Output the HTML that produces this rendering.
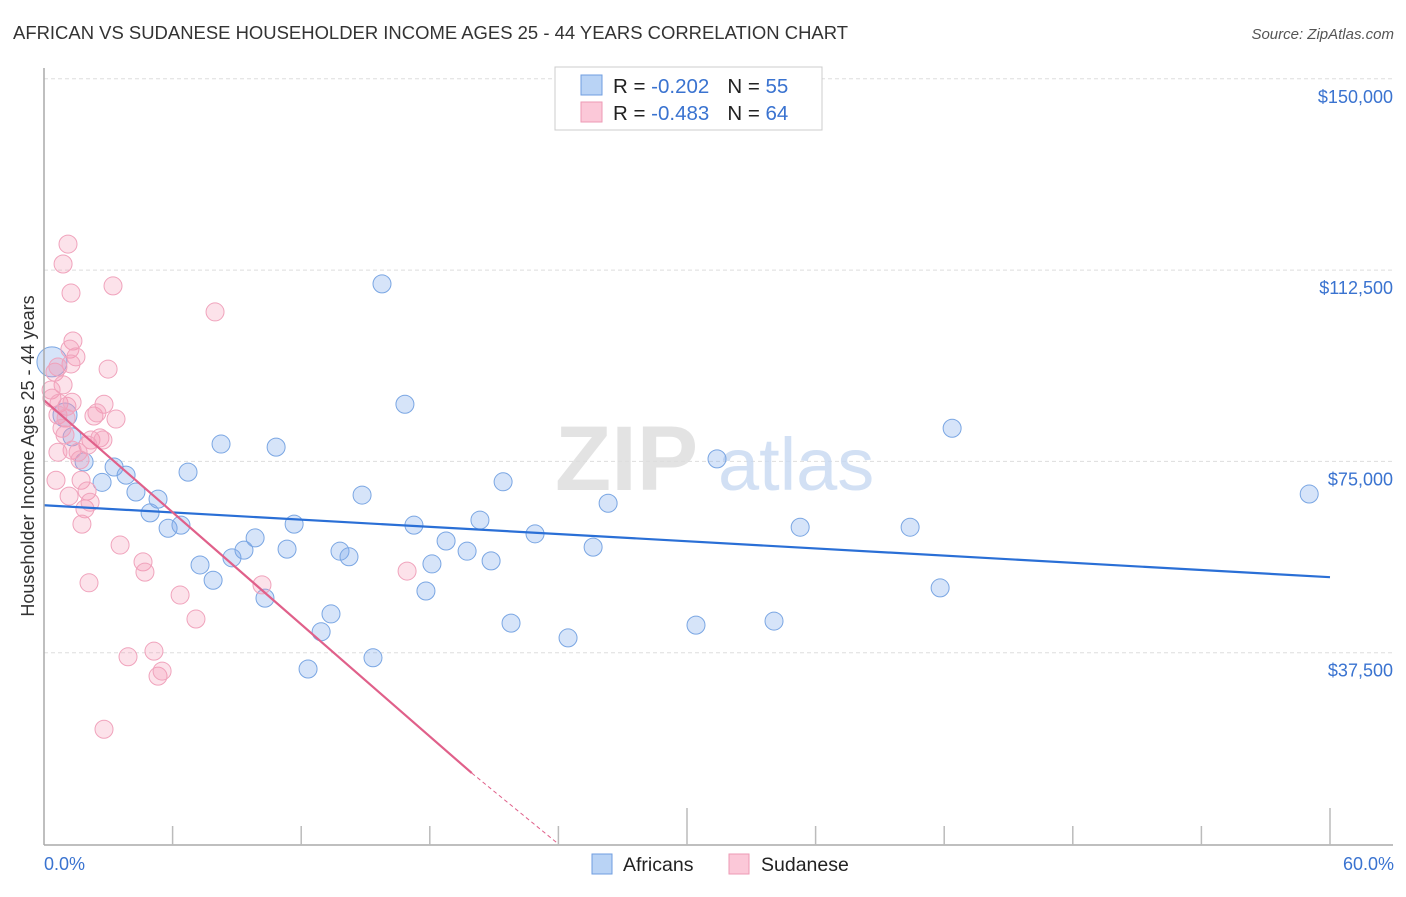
<!DOCTYPE html>
<html><head><meta charset="utf-8"><style>
body{margin:0;background:#fff;font-family:"Liberation Sans",sans-serif}
svg text{font-family:"Liberation Sans",sans-serif}
</style></head><body>
<svg id="chart" width="1406" height="892" viewBox="0 0 1406 892" xmlns="http://www.w3.org/2000/svg">
<text x="13" y="39" font-size="18" fill="#333" textLength="835" lengthAdjust="spacingAndGlyphs">AFRICAN VS SUDANESE HOUSEHOLDER INCOME AGES 25 - 44 YEARS CORRELATION CHART</text>
<text x="1394" y="39" font-size="15" fill="#555" font-style="italic" text-anchor="end">Source: ZipAtlas.com</text>
<g id="grid"></g>
<g>
<text x="555" y="490" font-size="92" fill="#ddd" font-family="Liberation Serif" font-weight="bold" opacity="0.8">ZIP</text>
<text x="718" y="490" font-size="74" fill="#c7d9f2" opacity="0.8">atlas</text>
</g>
<g id="marks"></g>
<g id="trends"></g>
<line x1="44" y1="68" x2="44" y2="845" stroke="#aaa" stroke-width="1.5"/>
<line x1="44" y1="845" x2="1393" y2="845" stroke="#aaa" stroke-width="1.5"/>
<g id="xticks"></g>
<text transform="translate(34,456) rotate(-90)" font-size="18" fill="#333" text-anchor="middle">Householder Income Ages 25 - 44 years</text>
<text x="44" y="870" font-size="18" fill="#3a73d0">0.0%</text>
<text x="1394" y="870" font-size="18" fill="#3a73d0" text-anchor="end">60.0%</text>
<g>
<rect x="555" y="67" width="267" height="63" fill="#fff" stroke="#ccc"/>
<rect x="581" y="75" width="21" height="20" fill="#b9d3f5" stroke="#6f9ee0"/>
<rect x="581" y="102" width="21" height="20" fill="#fbc8d8" stroke="#ee9ab5"/>
<text x="613" y="93" font-size="20.5" fill="#222">R = <tspan fill="#3a73d0">-0.202</tspan><tspan dx="18">N = </tspan><tspan fill="#3a73d0">55</tspan></text>
<text x="613" y="120" font-size="20.5" fill="#222">R = <tspan fill="#3a73d0">-0.483</tspan><tspan dx="18">N = </tspan><tspan fill="#3a73d0">64</tspan></text>
</g>
<g>
<rect x="592" y="854" width="20" height="20" fill="#b9d3f5" stroke="#6f9ee0"/>
<text x="623" y="871" font-size="19.5" fill="#222">Africans</text>
<rect x="729" y="854" width="20" height="20" fill="#fbc8d8" stroke="#ee9ab5"/>
<text x="761" y="871" font-size="19.5" fill="#222">Sudanese</text>
</g>
</svg>
<script>
const yTicks=[150000,112500,75000,37500];
const yTickLabels=["$150,000","$112,500","$75,000","$37,500"];
const xTicks=[6,12,18,24,30,36,42,48,54,60];
const africansX=[0.37,0.98,1.31,1.87,2.71,3.27,3.83,4.29,4.95,5.32,5.79,6.39,6.72,7.28,7.89,8.26,8.77,9.33,9.85,10.31,10.83,11.34,11.67,12.32,12.93,13.39,13.81,14.23,14.84,15.35,15.77,16.84,17.26,17.82,18.10,18.76,19.74,20.34,20.86,21.42,21.79,22.91,24.45,25.62,26.32,30.42,31.40,34.06,35.28,40.41,41.81,42.37,59.03];
const africansY=[94.5,84.1,79.8,74.9,70.9,73.9,72.3,69.0,64.9,67.6,61.9,62.5,72.9,54.7,51.7,78.4,56.1,57.6,60.0,48.2,77.8,57.8,62.7,34.3,41.6,45.1,57.4,56.3,68.4,36.5,109.8,86.2,62.5,49.6,54.9,59.4,57.4,63.5,55.5,71.0,43.3,60.8,40.4,58.2,66.8,42.9,75.5,43.7,62.1,62.1,50.2,81.5,68.6];
const sudaneseX=[1.12,0.89,1.26,3.22,7.98,1.35,1.21,1.49,1.26,2.99,0.51,0.89,0.33,0.37,0.70,1.07,1.31,0.65,1.03,2.33,2.80,2.47,3.36,2.19,2.61,2.05,2.75,0.84,0.98,1.31,1.59,0.65,1.68,1.17,0.56,1.73,2.01,1.91,2.15,1.77,3.55,4.62,4.71,2.10,6.35,7.09,10.17,16.94,3.92,5.13,5.32,5.51,2.80,0.65];
const sudaneseY=[117.6,113.7,108.0,109.4,104.3,98.6,97.0,95.5,94.1,93.1,92.5,90.0,89.0,87.4,86.4,85.8,86.6,84.1,83.5,83.9,86.2,84.5,83.3,79.2,79.6,78.2,79.2,81.5,80.2,77.2,76.8,76.8,75.3,68.2,71.3,71.3,69.2,65.7,67.0,62.7,58.6,55.3,53.3,51.2,48.8,44.1,50.8,53.5,36.7,37.8,32.9,33.9,22.5,93.5];
const africansTrend=[[0,66.4],[60,52.3]];
const sudaneseTrend=[[0,87.0],[19.96,13.9]];
const sudaneseTrendExt=[[19.96,13.9],[24.0,0]];

const NS="http://www.w3.org/2000/svg";
const X=p=>44+p/60*1286;
const Y=v=>844-v*1000/150000*765.2;
function mk(tag,attrs,parent){const e=document.createElementNS(NS,tag);for(const k in attrs)e.setAttribute(k,attrs[k]);parent.appendChild(e);return e;}
const grid=document.getElementById('grid');
yTicks.forEach((t,i)=>{
  const y=Y(t/1000);
  const l=mk('line',{x1:44,x2:1393,y1:y,y2:y,stroke:'#ddd','stroke-dasharray':'4 3'},grid);
  
  
  const tx=mk('text',{x:1393,y:y+24,'font-size':18,fill:'#3a73d0','text-anchor':'end'},grid);
  tx.textContent=yTickLabels[i];
  
  
});
const xt=document.getElementById('xticks');
xTicks.forEach(t=>{
  const x=X(t);const long=(t%30===0);
  const l=mk('line',{x1:x,x2:x,y1:long?808:826,y2:845,stroke:'#bbb','stroke-width':1.5},xt);
  
  
});
const marks=document.getElementById('marks');
africansX.forEach((p,i)=>{
  const r=i===0?15:(i===1?12:9);
  const c=mk('circle',{cx:X(p),cy:Y(africansY[i]),r:r,fill:'rgba(120,165,235,0.3)',stroke:'#7aa6e3','stroke-width':1},marks);
  
  
});
sudaneseX.forEach((p,i)=>{
  const c=mk('circle',{cx:X(p),cy:Y(sudaneseY[i]),r:9,fill:'rgba(245,150,180,0.28)',stroke:'#f0a3bc','stroke-width':1},marks);
  
  
});
const tr=document.getElementById('trends');
const bl=mk('line',{x1:X(africansTrend[0][0]),y1:Y(africansTrend[0][1]),x2:X(africansTrend[1][0]),y2:Y(africansTrend[1][1]),stroke:'#2a6fd6','stroke-width':2.2},tr);


const pl=mk('line',{x1:X(sudaneseTrend[0][0]),y1:Y(sudaneseTrend[0][1]),x2:X(sudaneseTrend[1][0]),y2:Y(sudaneseTrend[1][1]),stroke:'#e0608a','stroke-width':2.2},tr);


const pe=mk('line',{x1:X(sudaneseTrendExt[0][0]),y1:Y(sudaneseTrendExt[0][1]),x2:X(sudaneseTrendExt[1][0]),y2:Y(sudaneseTrendExt[1][1]),stroke:'#e0608a','stroke-width':1,'stroke-dasharray':'4 3'},tr);


</script>
</body></html>
